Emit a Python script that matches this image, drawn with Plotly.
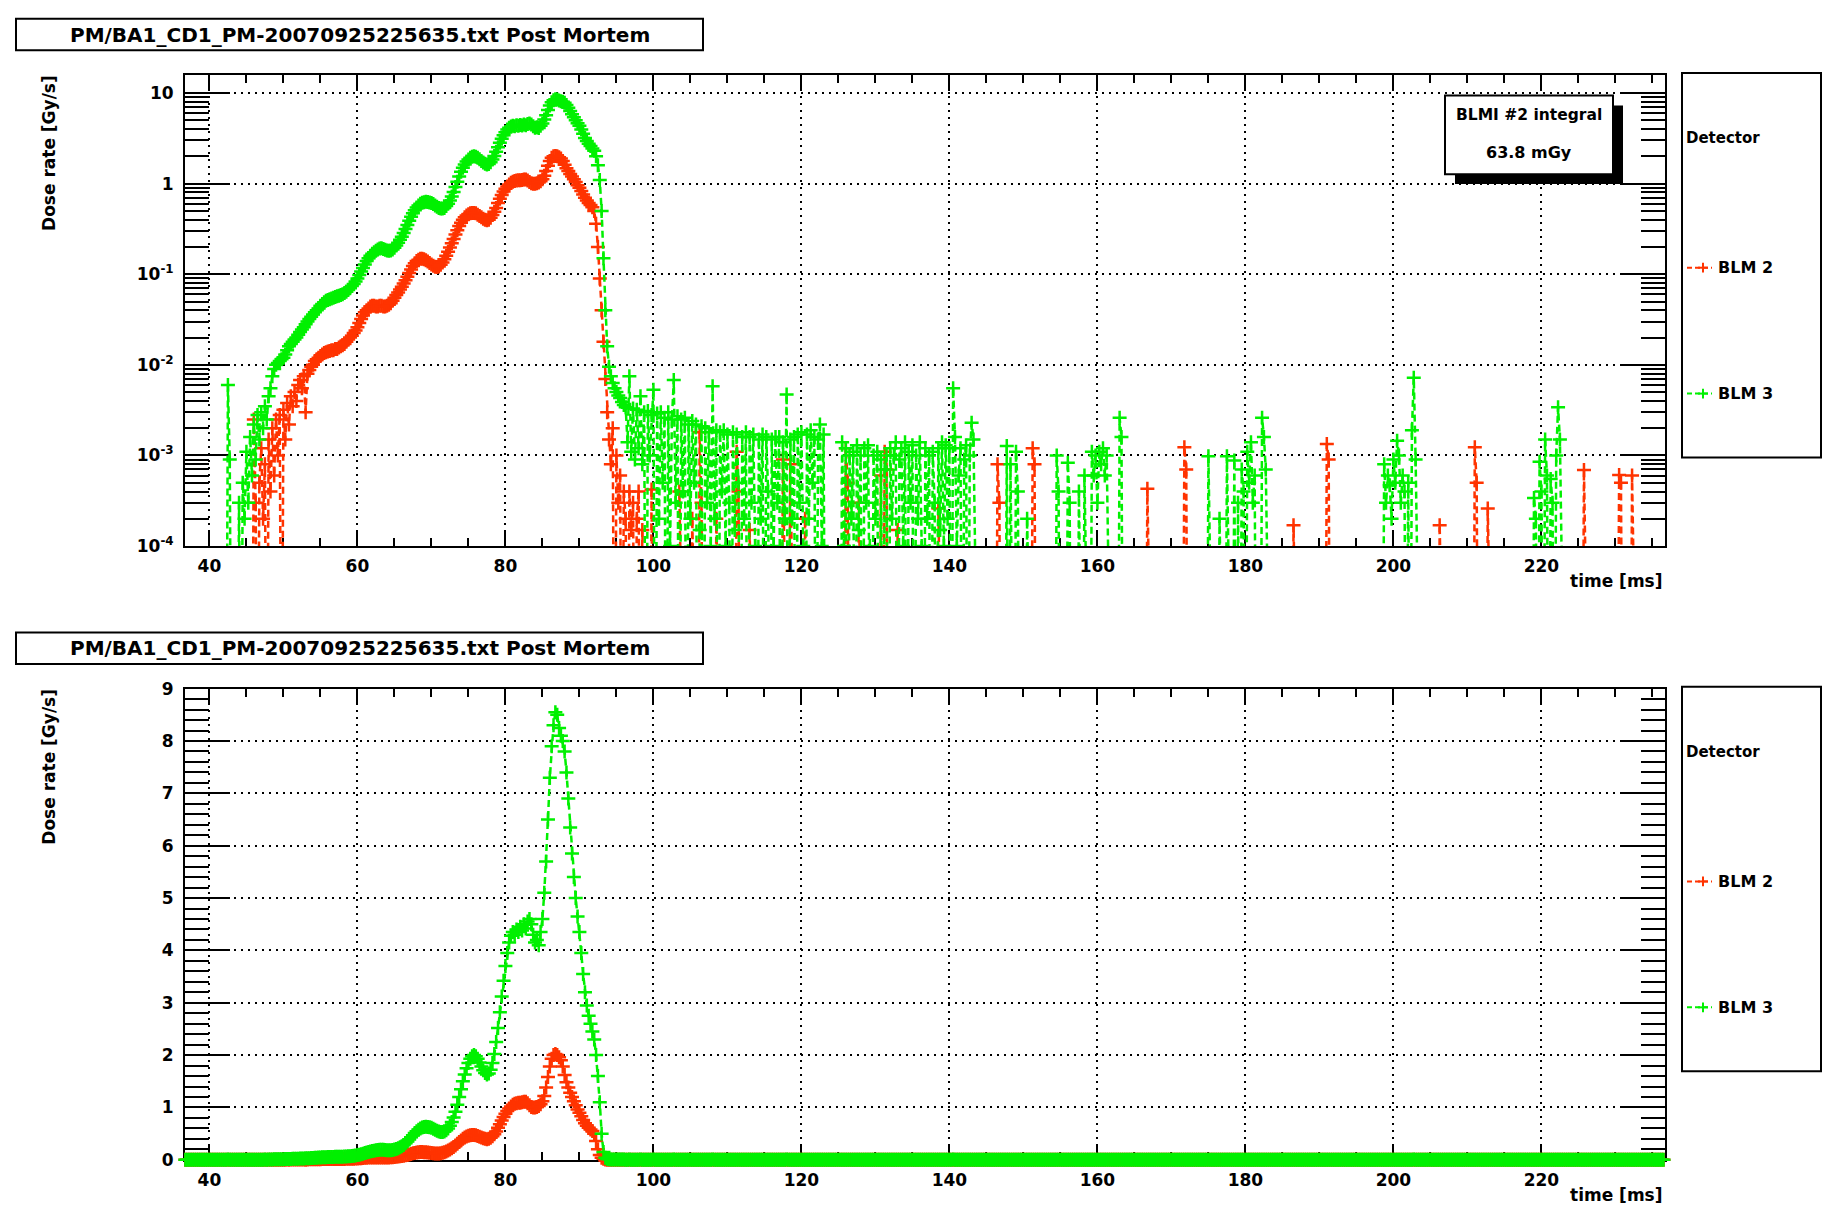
import numpy as np
import plotly.graph_objects as go

# ---------------------------------------------------------------- data ----
# Post-mortem buffer, dose rate [Gy/s] sampled every 0.25 ms
SAMPLE_START_MS = 36.75
SAMPLE_STEP_MS = 0.25
SAMPLE_COUNT = 800

PULSE_START_MS = 42.0          # first sample of the pulse blocks below

# BLM 2: 42.0 ... 96.0 ms
blm2_pulse = [
    0, 0, 0, 0, 0, 0, 0, 0,
    0, 0, 0, 0, 0, 0, 0, 0,
    2.5e-3, 3e-4, 0, 5e-4, 1.2e-3, 2e-4, 8e-4, 0,
    1.5e-3, 4e-4, 2.0e-3, 6e-4, 2.5e-3, 1.0e-3, 2.8e-3, 0,
    3.2e-3, 1.5e-3, 3.8e-3, 2.2e-3, 4.5e-3, 3.5e-3, 5.0e-3, 4.0e-3,
    6.0e-3, 6.8e-3, 5.5e-3, 7.5e-3, 3.0e-3, 8.0e-3, 8.8e-3, 9.5e-3,
    1.0e-2, 1.1e-2, 1.15e-2, 1.2e-2, 1.25e-2, 1.3e-2, 1.35e-2, 1.38e-2,
    1.4e-2, 1.42e-2, 1.45e-2, 1.45e-2, 1.5e-2, 1.5e-2, 1.55e-2, 1.6e-2,
    1.65e-2, 1.7e-2, 1.8e-2, 1.9e-2, 2.0e-2, 2.1e-2, 2.25e-2, 2.4e-2,
    2.6e-2, 2.9e-2, 3.2e-2, 3.5e-2, 3.8e-2, 4.0e-2, 4.2e-2, 4.4e-2,
    4.5e-2, 4.5e-2, 4.4e-2, 4.4e-2, 4.5e-2, 4.5e-2, 4.4e-2, 4.4e-2,
    4.5e-2, 4.6e-2, 4.8e-2, 5.1e-2, 5.5e-2, 5.9e-2, 6.3e-2, 6.8e-2,
    7.3e-2, 7.9e-2, 8.6e-2, 9.4e-2, 0.103, 0.113, 0.123, 0.132,
    0.14, 0.145, 0.148, 0.148, 0.146, 0.143, 0.138, 0.133,
    0.128, 0.124, 0.121, 0.12, 0.122, 0.127, 0.135, 0.146,
    0.16, 0.177, 0.197, 0.22, 0.245, 0.275, 0.305, 0.34,
    0.37, 0.40, 0.425, 0.445, 0.46, 0.47, 0.475, 0.475,
    0.47, 0.455, 0.44, 0.425, 0.41, 0.40, 0.395, 0.40,
    0.42, 0.45, 0.49, 0.54, 0.61, 0.68, 0.75, 0.82,
    0.88, 0.93, 0.98, 1.02, 1.05, 1.07, 1.08, 1.09,
    1.09, 1.10, 1.11, 1.11, 1.08, 1.04, 1.01, 1.0,
    1.0, 1.01, 1.03, 1.06, 1.12, 1.22, 1.38, 1.58,
    1.78, 1.93, 2.0, 2.02, 2.0, 1.96, 1.9, 1.78,
    1.62, 1.48, 1.38, 1.28, 1.2, 1.12, 1.04, 0.96,
    0.9, 0.83, 0.76, 0.7, 0.65, 0.61, 0.58, 0.55,
    0.5, 0.36, 0.2, 0.09, 0.04, 0.018, 7e-3, 3e-3,
    1.5e-3, 8e-4, 2e-3, 0, 1.0e-3, 3e-4, 6e-4, 0,
    4e-4,
]

# BLM 3: 42.0 ... 96.0 ms
blm3_pulse = [
    0, 0, 6.0e-3, 9e-4, 0, 0, 0, 0,
    3e-4, 0, 5e-4, 2e-4, 1.1e-3, 3e-4, 1.6e-3, 6e-4,
    2.2e-3, 9e-4, 2.8e-3, 1.5e-3, 3.0e-3, 2.0e-3, 3.5e-3, 2.5e-3,
    4.5e-3, 5.5e-3, 7.5e-3, 9.0e-3, 1.0e-2, 1.05e-2, 1.1e-2, 1.15e-2,
    1.2e-2, 1.3e-2, 1.45e-2, 1.6e-2, 1.7e-2, 1.8e-2, 1.9e-2, 2.0e-2,
    2.15e-2, 2.3e-2, 2.45e-2, 2.6e-2, 2.8e-2, 3.0e-2, 3.2e-2, 3.4e-2,
    3.6e-2, 3.8e-2, 4.0e-2, 4.2e-2, 4.5e-2, 4.7e-2, 4.9e-2, 5.1e-2,
    5.2e-2, 5.3e-2, 5.4e-2, 5.5e-2, 5.6e-2, 5.7e-2, 5.8e-2, 5.9e-2,
    6.0e-2, 6.2e-2, 6.4e-2, 6.7e-2, 7.0e-2, 7.4e-2, 7.8e-2, 8.3e-2,
    9.0e-2, 9.8e-2, 0.107, 0.117, 0.128, 0.14, 0.15, 0.16,
    0.168, 0.175, 0.182, 0.188, 0.192, 0.193, 0.19, 0.186,
    0.183, 0.182, 0.183, 0.188, 0.196, 0.207, 0.222, 0.24,
    0.26, 0.285, 0.315, 0.35, 0.39, 0.43, 0.47, 0.51,
    0.545, 0.575, 0.6, 0.615, 0.625, 0.63, 0.628, 0.62,
    0.61, 0.595, 0.575, 0.555, 0.54, 0.53, 0.53, 0.54,
    0.565, 0.6, 0.65, 0.72, 0.81, 0.92, 1.05, 1.2,
    1.35, 1.5, 1.63, 1.75, 1.85, 1.93, 1.98, 2.0,
    1.98, 1.93, 1.86, 1.78, 1.71, 1.66, 1.63, 1.65,
    1.72, 1.85, 2.02, 2.25, 2.52, 2.82, 3.12, 3.42,
    3.7, 3.95, 4.15, 4.28, 4.35, 4.3, 4.4, 4.35,
    4.45, 4.38, 4.5, 4.42, 4.55, 4.6, 4.5, 4.3,
    4.15, 4.2, 4.1, 4.35, 4.6, 5.1, 5.7, 6.5,
    7.3, 7.9, 8.3, 8.55, 8.5, 8.25, 8.1, 8.0,
    7.8, 7.4, 6.9, 6.35, 5.85, 5.4, 5.0, 4.65,
    4.35, 3.95, 3.55, 3.2, 2.95, 2.75, 2.6, 2.45,
    2.3, 2.0, 1.6, 1.1, 0.5, 0.15, 0.04, 0.016,
    9.5e-3, 7.5e-3, 6.3e-3, 5.5e-3, 5.0e-3, 4.6e-3, 4.3e-3, 3.9e-3,
    3.6e-3,
]

# BLM 3 noise after the loss, 96.25 ... 123.0 ms
BLM3_DECAY_START_MS = 96.25
blm3_decay = [
    3.4e-3, 1.4e-3, 7.5e-3, 1.1e-3, 3.3e-3, 9e-4, 3.2e-3, 1.2e-3,
    4.5e-3, 8e-4, 3.0e-3, 0, 3.1e-3, 1.0e-3, 2.8e-3, 5.3e-3,
    0, 2.9e-3, 2e-4, 3.0e-3, 5e-4, 2.6e-3, 0, 3.0e-3,
    1e-4, 2.5e-3, 6.8e-3, 3e-4, 2.7e-3, 0, 2.5e-3, 4e-4,
    2.6e-3, 0, 2.2e-3, 2e-4, 2.4e-3, 5e-4, 2.2e-3, 0,
    1.5e-4, 2.1e-3, 0, 2.0e-3, 3e-4, 1.8e-3, 1e-4, 5.8e-3,
    2e-4, 1.9e-3, 0, 1.8e-3, 4e-4, 1.9e-3, 1e-4, 1.7e-3,
    3e-4, 0, 1.8e-3, 1.5e-4, 1.7e-3, 5e-4, 0, 1.6e-3,
    2e-4, 1.8e-3, 0, 1.6e-3, 3e-4, 1.7e-3, 1e-4, 0,
    1.5e-3, 2e-4, 1.7e-3, 0, 1.6e-3, 4e-4, 0, 1.5e-3,
    1e-4, 1.6e-3, 3e-4, 1.6e-3, 0, 1.4e-3, 2e-4, 4.7e-3,
    0, 1.5e-3, 2e-4, 1.6e-3, 0, 1.7e-3, 3e-4, 1.8e-3,
    1e-4, 0, 1.7e-3, 2e-4, 1.9e-3, 5e-4, 1.6e-3, 0,
    1.5e-3, 2.2e-3, 1e-4, 1.7e-3,
]

# BLM 3 noise cluster, 125.5 ... 143.25 ms
BLM3_CLUSTER_START_MS = 125.5
blm3_cluster = [
    1.4e-3, 1e-4, 1.2e-3, 0, 1.0e-3, 2e-4, 1.1e-3, 0,
    1.3e-3, 1.5e-4, 1.0e-3, 0, 1.2e-3, 3e-4, 1.3e-3, 1e-4,
    0, 1.0e-3, 2e-4, 1.1e-3, 0, 9e-4, 0, 7e-4,
    1.0e-3, 0, 1.2e-3, 2e-4, 1.0e-3, 1.4e-3, 0, 9e-4,
    1.2e-3, 1e-4, 1.4e-3, 0, 1.1e-3, 3e-4, 1.3e-3, 0,
    1.0e-3, 2e-4, 1.4e-3, 1e-4, 0, 1.2e-3, 2e-4, 1.0e-3,
    0, 1.1e-3, 3e-4, 0, 1.2e-3, 1.5e-4, 1.4e-3, 1e-4,
    1.3e-3, 2e-4, 1.2e-3, 0, 5.5e-3, 1.6e-3, 1e-4, 6e-4,
    1.2e-3, 0, 9e-4, 1.3e-3, 0, 1.0e-3, 2.3e-3, 1.5e-3,
]

# isolated non-zero samples (time [ms], dose rate [Gy/s])
blm3_spikes = [
    (147.75, 1.27e-3), (148.25, 8e-4), (149.0, 1.1e-3), (149.25, 4e-4),
    (150.5, 2e-4), (154.5, 1.0e-3), (154.75, 4e-4), (156.0, 8.3e-4),
    (156.25, 3e-4), (157.5, 4e-4), (158.25, 6e-4), (159.25, 1.1e-3),
    (159.5, 6e-4), (159.75, 1.0e-3), (160.0, 3e-4), (160.25, 1.1e-3),
    (160.5, 8e-4), (160.75, 1.2e-3), (161.0, 6e-4), (161.25, 1.0e-3),
    (163.0, 2.6e-3), (163.25, 1.6e-3),
    (175.0, 9.8e-4), (176.5, 2e-4), (177.5, 9.8e-4), (178.5, 8.8e-4),
    (179.0, 3e-4), (179.5, 7e-4), (179.75, 4e-4), (180.25, 1.1e-3),
    (180.5, 5e-4), (180.75, 1.4e-3), (181.0, 3e-4), (181.25, 6e-4),
    (182.25, 2.6e-3), (182.5, 1.6e-3), (182.75, 7e-4),
    (198.75, 8e-4), (199.0, 3e-4), (199.25, 6e-4), (199.5, 4.7e-4),
    (199.75, 2e-4), (200.0, 9e-4), (200.25, 5e-4), (200.5, 1.45e-3),
    (200.75, 1.0e-3), (201.0, 3e-4), (201.25, 6e-4), (201.5, 4e-4),
    (202.0, 5e-4), (202.5, 1.9e-3), (202.75, 7.2e-3), (203.0, 9e-4),
    (219.0, 3.4e-4), (219.25, 2e-4), (219.75, 8.5e-4), (220.0, 4e-4),
    (220.5, 1.5e-3), (220.75, 6e-4), (221.25, 5.5e-4), (221.5, 3e-4),
    (222.0, 1.0e-3), (222.25, 3.4e-3), (222.5, 1.5e-3),
]

blm2_spikes = [
    (96.25, 2e-4), (96.75, 4e-4), (97.0, 1.5e-4), (97.25, 3e-4),
    (97.75, 2e-4), (98.0, 4e-4), (98.5, 1.5e-4), (99.75, 4.2e-4),
    (103.5, 4e-4), (105.25, 2e-4), (106.25, 1.8e-3), (106.5, 3e-4),
    (108.5, 2e-4), (111.25, 1.1e-3), (111.5, 4e-4), (113.0, 1.5e-4),
    (117.5, 9e-4), (118.5, 8e-4), (120.5, 2e-4), (126.0, 1.2e-3),
    (126.25, 5e-4), (127.75, 3e-4), (130.75, 6e-4), (131.25, 1.1e-3),
    (131.5, 7e-4), (133.0, 1.5e-4), (138.5, 2.6e-4), (146.5, 8e-4),
    (146.75, 3e-4), (151.25, 1.2e-3), (151.5, 8e-4), (166.75, 4.3e-4),
    (171.75, 1.23e-3), (172.0, 7e-4), (186.5, 1.7e-4), (191.0, 1.34e-3),
    (191.25, 9e-4), (206.25, 1.7e-4), (211.0, 1.23e-3), (211.25, 5e-4),
    (212.75, 2.6e-4), (225.75, 6.9e-4), (230.5, 6.1e-4), (230.75, 5e-4),
    (232.25, 6e-4),
]

detector_names = ["BLM 2", "BLM 3"]
log_tick_values = [1e-4, 1e-3, 1e-2, 1e-1, 1, 10]
log_tick_labels = ["10<sup>-4</sup>", "10<sup>-3</sup>", "10<sup>-2</sup>",
                   "10<sup>-1</sup>", "1", "10"]
title_text = "PM/BA1_CD1_PM-20070925225635.txt Post Mortem"
integral_label = "BLMI #2 integral"
integral_value = "63.8 mGy"

# ------------------------------------------------------------ assemble ----
time_ms = SAMPLE_START_MS + SAMPLE_STEP_MS * np.arange(SAMPLE_COUNT)


def sample_index(t):
    return int(round((t - SAMPLE_START_MS) / SAMPLE_STEP_MS))


def build_series(blocks, spikes):
    values = np.zeros(SAMPLE_COUNT)
    for start, block in blocks:
        i0 = sample_index(start)
        values[i0:i0 + len(block)] = block
    for t, v in spikes:
        values[sample_index(t)] = v
    return values


blm2 = build_series([(PULSE_START_MS, blm2_pulse)], blm2_spikes)
blm3 = build_series([(PULSE_START_MS, blm3_pulse),
                     (BLM3_DECAY_START_MS, blm3_decay),
                     (BLM3_CLUSTER_START_MS, blm3_cluster)], blm3_spikes)

# --------------------------------------------------------------- style ----
W, H = 1834, 1218
RED = "#ff3300"
GREEN = "#00f000"
FONT = "DejaVu Sans"
LOG_FLOOR = 1e-7          # zero samples fall off the bottom of the log scale

X_RANGE = [36.7, 236.7]
X_DOMAIN = [185 / W, 1665 / W]
TOP_DOMAIN = [1 - 545 / H, 1 - 66 / H]
BOTTOM_DOMAIN = [1 - 1169 / H, 1 - 690 / H]


def px(x):
    return x / W


def py(y):
    return 1 - y / H


fig = go.Figure()

for name, vals, color in zip(detector_names, [blm2, blm3], [RED, GREEN]):
    common = dict(
        x=time_ms, name=name, mode="lines+markers", showlegend=False,
        line=dict(color=color, width=2.5, dash="7px,4px"),
        marker=dict(symbol="cross-thin", size=10, color=color,
                    line=dict(color=color, width=2.5)),
        hoverinfo="skip",
    )
    fig.add_trace(go.Scatter(y=np.where(vals > 0, vals, LOG_FLOOR),
                             xaxis="x", yaxis="y", **common))
    fig.add_trace(go.Scatter(y=vals, xaxis="x2", yaxis="y2",
                             cliponaxis=False, **common))

grid_style = dict(showgrid=True, gridcolor="black", griddash="2px,5px",
                  gridwidth=1.5, zeroline=False, showline=True,
                  linecolor="black", linewidth=2, mirror="allticks",
                  ticks="inside", tickcolor="black", tickwidth=1.5,
                  layer="below traces",
                  tickfont=dict(family=FONT, size=17, color="black",
                                weight="bold"))

x_style = dict(grid_style, range=X_RANGE, domain=X_DOMAIN, tick0=40,
               dtick=20, ticklen=15, ticklabelstandoff=4,
               minor=dict(ticks="inside", dtick=5, ticklen=8,
                          tickcolor="black", tickwidth=1.5, showgrid=False))

log_minor = [k * 10.0 ** e for e in range(-4, 2) for k in range(2, 10)]

fig.update_layout(
    width=W, height=H, margin=dict(l=0, r=0, t=0, b=0),
    paper_bgcolor="white", plot_bgcolor="white",
    font=dict(family=FONT, color="black", weight="bold"),
    xaxis=dict(x_style, anchor="y"),
    xaxis2=dict(x_style, anchor="y2"),
    yaxis=dict(grid_style, type="log", range=[-4, 1.2], domain=TOP_DOMAIN,
               anchor="x", tickmode="array", tickvals=log_tick_values,
               ticktext=log_tick_labels, ticklen=45, ticklabelstandoff=6,
               minor=dict(ticks="inside", tickmode="array",
                          tickvals=log_minor, ticklen=24, tickcolor="black",
                          tickwidth=1.5, showgrid=False)),
    yaxis2=dict(grid_style, range=[0, 9], domain=BOTTOM_DOMAIN, anchor="x2",
                tick0=0, dtick=1, ticklen=45, ticklabelstandoff=6,
                minor=dict(ticks="inside", dtick=0.2, ticklen=24,
                           tickcolor="black", tickwidth=1.5, showgrid=False)),
)

shapes = []
annotations = []


def box(x0, y0, x1, y1, fill="white", width=2):
    shapes.append(dict(type="rect", xref="paper", yref="paper",
                       x0=px(x0), x1=px(x1), y0=py(y1), y1=py(y0),
                       line=dict(color="black", width=width),
                       fillcolor=fill, layer="above"))


def text(x, y, s, size, xanchor="center", angle=0, yanchor="middle"):
    annotations.append(dict(xref="paper", yref="paper", x=px(x), y=py(y),
                            text=s, showarrow=False, xanchor=xanchor,
                            yanchor=yanchor, textangle=angle,
                            font=dict(family=FONT, size=size, color="black",
                                      weight="bold")))


def legend_sample(x, y, color):
    shapes.append(dict(type="line", xref="paper", yref="paper",
                       x0=px(x), x1=px(x + 25), y0=py(y), y1=py(y),
                       line=dict(color=color, width=2, dash="5px,3px"),
                       layer="above"))
    shapes.append(dict(type="line", xref="paper", yref="paper",
                       x0=px(x + 11), x1=px(x + 21), y0=py(y), y1=py(y),
                       line=dict(color=color, width=2), layer="above"))
    shapes.append(dict(type="line", xref="paper", yref="paper",
                       x0=px(x + 16), x1=px(x + 16), y0=py(y - 5),
                       y1=py(y + 5), line=dict(color=color, width=2),
                       layer="above"))


for offset in (0, 624):
    # pad title
    box(16, 9 + offset, 703, 41 + offset)
    text(359.5, 25 + offset, title_text, 20)
    # axis titles
    text(1665, 581 + offset, "time [ms]", 17, xanchor="right")
    text(49, 64 + offset, "Dose rate [Gy/s]", 17, angle=-90, yanchor="top")
    # legend
    box(1682, 64 + offset, 1821, 455 + offset)
    text(1684, 130 + offset, "Detector", 15, xanchor="left")
    for name, color, ly in zip(detector_names, [RED, GREEN], [262, 390]):
        legend_sample(1687, ly + offset, color)
        text(1716, ly + offset, name, 16, xanchor="left")

# integral box with drop shadow
box(1455, 97, 1623, 177, fill="black", width=0)
box(1445, 87, 1613, 167)
text(1529, 107, integral_label, 15.5)
text(1529, 145, integral_value, 16)

fig.update_layout(shapes=shapes, annotations=annotations)
fig.write_html("out.html")
